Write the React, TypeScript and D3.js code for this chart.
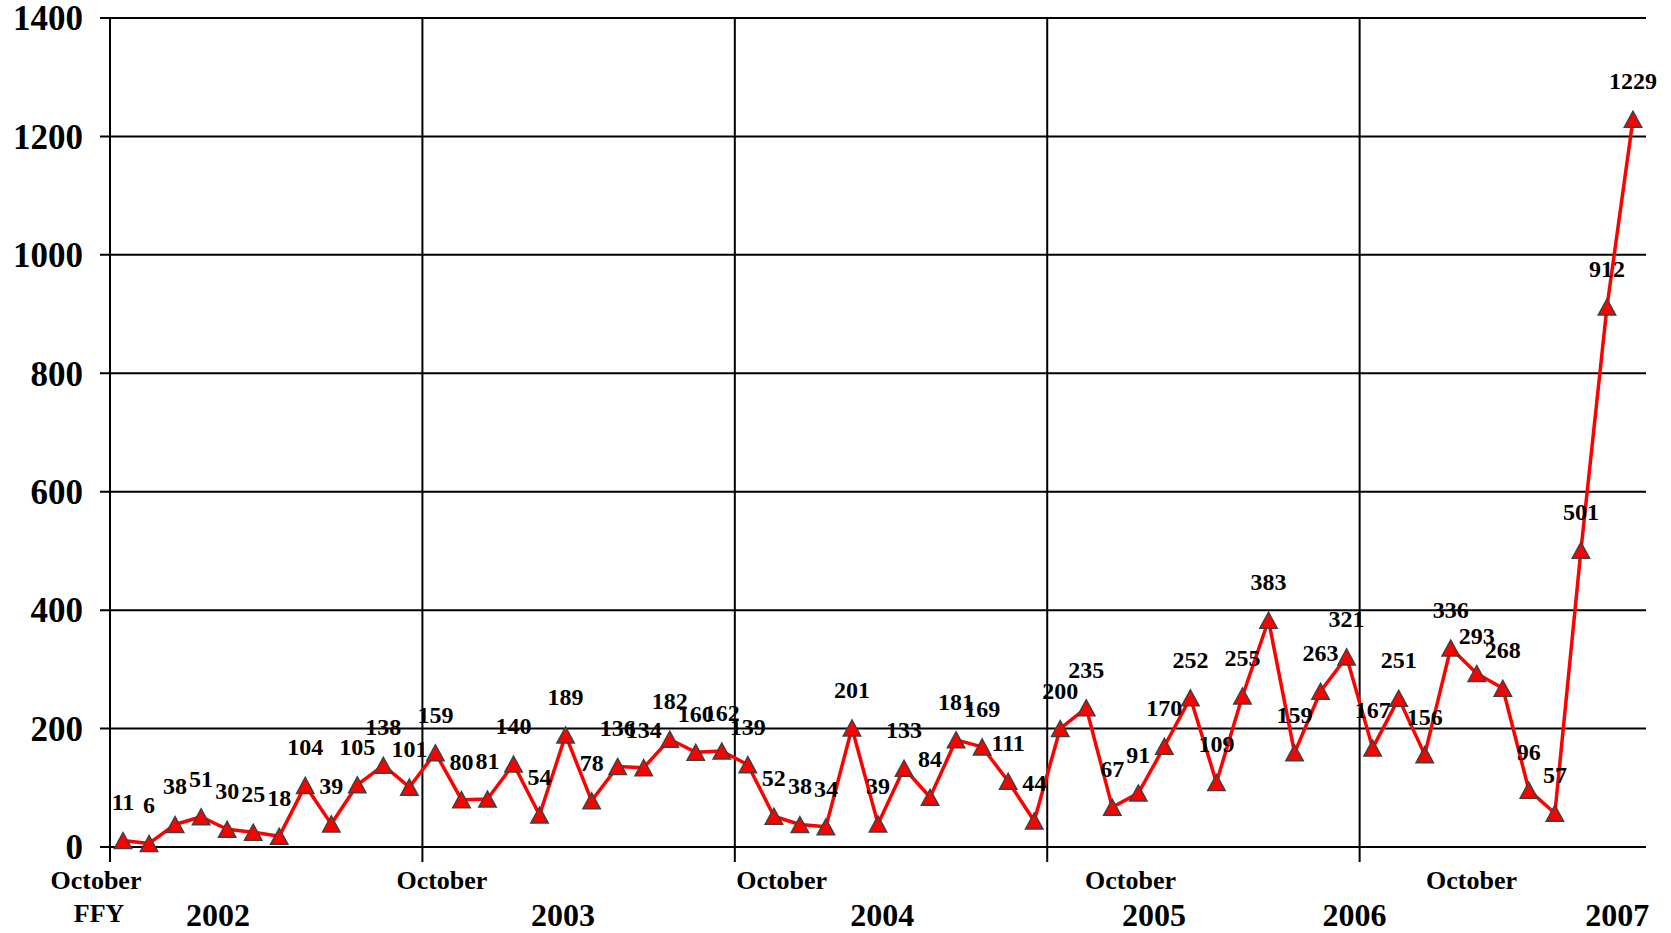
import React from "react";
import * as d3 from "d3";

const values: number[] = [
  11, 6, 38, 51, 30, 25, 18, 104, 39, 105, 138, 101,
  159, 80, 81, 140, 54, 189, 78, 136, 134, 182, 160, 162,
  139, 52, 38, 34, 201, 39, 133, 84, 181, 169, 111, 44,
  200, 235, 67, 91, 170, 252, 109, 255, 383, 159, 263, 321,
  167, 251, 156, 336, 293, 268, 96, 57, 501, 912, 1229,
];
const yTicks: number[] = [0, 200, 400, 600, 800, 1000, 1200, 1400];
const yearStarts: number[] = [0, 12, 24, 36, 48];
const octoberLabels: string[] = ["October", "October", "October", "October", "October"];
const octoberPos: number[] = [-0.54, 12.75, 25.8, 39.2, 52.3];
const yearLabels: string[] = ["2002", "2003", "2004", "2005", "2006", "2007"];
const yearPos: number[] = [4.15, 17.4, 29.66, 40.1, 47.8, 57.9];
const ffyLabel = "FFY";
const ffyPos = -0.42;

export default function App() {
  const W = 1671;
  const H = 933;
  const left = 110;
  const right = 1646;
  const top = 18;
  const bottom = 847;
  const x = d3.scaleLinear().domain([0, values.length]).range([left, right]);
  const y = d3.scaleLinear().domain([0, 1400]).range([bottom, top]);
  const line = d3
    .line<number>()
    .x((_, i) => x(i + 0.5))
    .y((d) => y(d));
  const tri = (cx: number, cy: number) => {
    const p = d3.path();
    p.moveTo(cx, cy - 8);
    p.lineTo(cx + 8.7, cy + 8);
    p.lineTo(cx - 8.7, cy + 8);
    p.closePath();
    return p.toString();
  };
  const font = "'Liberation Serif', 'Times New Roman', serif";
  return (
    <svg
      width={W}
      height={H}
      style={{ position: "absolute", left: 0, top: 0, background: "#fff" }}
      fontFamily={font}
      fontWeight="bold"
    >
      {yTicks.map((t) => (
        <g key={"y" + t}>
          <line x1={100} x2={right} y1={y(t)} y2={y(t)} stroke="#000" strokeWidth={2} />
          <text x={83} y={y(t)} dy="0.35em" textAnchor="end" fontSize={35}>
            {t}
          </text>
        </g>
      ))}
      {yearStarts.map((m) => (
        <line key={"v" + m} x1={x(m)} x2={x(m)} y1={top - 1} y2={862} stroke="#000" strokeWidth={2} />
      ))}
      {octoberLabels.map((l, i) => (
        <text key={"o" + i} x={x(octoberPos[i])} y={889} textAnchor="middle" fontSize={26}>
          {l}
        </text>
      ))}
      {yearLabels.map((l, i) => (
        <text key={"yr" + i} x={x(yearPos[i])} y={926} textAnchor="middle" fontSize={32}>
          {l}
        </text>
      ))}
      <text x={x(ffyPos)} y={922} textAnchor="middle" fontSize={26}>
        {ffyLabel}
      </text>
      <path d={line(values) || ""} fill="none" stroke="#ff0000" strokeWidth={3.5} strokeLinejoin="round" />
      {values.map((v, i) => (
        <path key={"m" + i} d={tri(x(i + 0.5), y(v))} fill="#ff0000" stroke="#404040" strokeWidth={1.5} />
      ))}
      {values.map((v, i) => (
        <text key={"l" + i} x={x(i + 0.5)} y={y(v) - 30} textAnchor="middle" fontSize={24}>
          {v}
        </text>
      ))}
    </svg>
  );
}
